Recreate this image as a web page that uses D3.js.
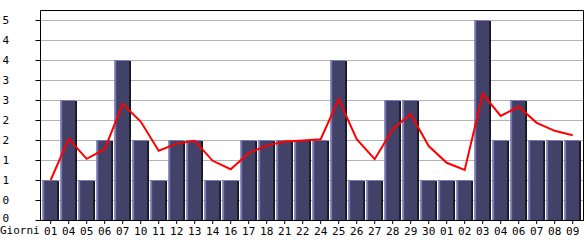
<!DOCTYPE html>
<html><head><meta charset="utf-8">
<script src="https://cdn.jsdelivr.net/npm/d3@7/dist/d3.min.js"></script>
<style>body{margin:0;background:#fff}svg{display:block}text{font-family:"DejaVu Sans Mono",monospace;font-size:11px;fill:#000}</style>
</head><body><svg id="c" width="585" height="240"></svg>
<script>
const categories = ["01","04","05","06","07","10","11","12","13","14","16","17","18","21","22","24","25","26","27","28","29","30","01","02","03","04","06","07","08","09"];
const barValues = [1,3,1,2,4,2,1,2,2,1,1,2,2,2,2,2,4,1,1,3,3,1,1,1,5,2,3,2,2,2];
const lineValues = [1.0,2.03,1.53,1.77,2.9,2.46,1.73,1.91,1.98,1.48,1.27,1.67,1.86,1.96,1.99,2.02,3.02,2.02,1.52,2.27,2.65,1.85,1.43,1.25,3.15,2.6,2.83,2.43,2.23,2.12];
const yTicks = [0,0.5,1,1.5,2,2.5,3,3.5,4,4.5,5];
const xAxisTitle = "Giorni";

const svg = d3.select("#c");
const L = 40, R = 583, T = 10, B = 220;
const x = d3.scaleBand().domain(d3.range(categories.length)).range([41.7, 581.7]).padding(0);
const y = d3.scaleLinear().domain([0,5]).range([B, 20]);

// grid
svg.append("g").selectAll("line").data(yTicks.filter(d=>d>0)).join("line")
  .attr("x1", L).attr("x2", R).attr("y1", d=>Math.round(y(d))+0.5).attr("y2", d=>Math.round(y(d))+0.5)
  .attr("stroke", "#b4b4b4").attr("stroke-width", 1);

// y axis
const yAxis = d3.axisLeft(y).tickValues(yTicks).tickSize(5).tickFormat(d=>String(Math.floor(d)));
const ga = svg.append("g").attr("transform", `translate(${L+0.5},0)`).call(yAxis);
ga.select(".domain").remove();
ga.selectAll("line").attr("stroke","#000");
ga.selectAll("text").attr("x", -38).attr("text-anchor","start").attr("dy","0.35em").style("font-family",'"DejaVu Sans Mono",monospace').style("font-size","11px");
ga.selectAll(".tick").filter(d=>d===0).select("text").attr("dy","0.1em");

// bars
const bw = x.bandwidth();
const bars = svg.append("g").selectAll("g").data(barValues).join("g");
bars.append("rect").attr("x",(d,i)=>x(i)+bw/2+6.2).attr("width",2)
  .attr("y",d=>y(d)+1).attr("height",d=>B-y(d)-1).attr("fill","#000");
bars.append("rect").attr("x",(d,i)=>x(i)+bw/2-8.5).attr("width",15)
  .attr("y",d=>y(d)).attr("height",d=>B-y(d)).attr("fill","#7878b4");
bars.append("rect").attr("x",(d,i)=>x(i)+bw/2-6.5).attr("width",13)
  .attr("y",d=>y(d)+1).attr("height",d=>B-y(d)-1).attr("fill","#424268");

// line
const line = d3.line().x((d,i)=>x(i)+bw/2).y(d=>y(d));
svg.append("path").datum(lineValues).attr("d", line).attr("fill","none").attr("stroke","#ff0000").attr("stroke-width",2).attr("stroke-linejoin","miter");

// frame
svg.append("path").attr("d",`M${L+0.5},${B}V${T+0.5}H${R+0.5}V${B}`).attr("fill","none").attr("stroke","#000");
svg.append("line").attr("x1",L).attr("x2",R+1).attr("y1",B+0.5).attr("y2",B+0.5).attr("stroke","#000");

// x axis
const xAxis = d3.axisBottom(x).tickSize(4).tickFormat(i=>categories[i]);
const gx = svg.append("g").attr("transform",`translate(0,${B})`).call(xAxis);
gx.select(".domain").remove();
gx.selectAll("line").attr("stroke","#000");
gx.selectAll("text").attr("y",7).attr("dy","0.71em").style("font-family",'"DejaVu Sans Mono",monospace').style("font-size","11px");
svg.append("text").attr("x",0).attr("y",B+14).text(xAxisTitle);
</script></body></html>
